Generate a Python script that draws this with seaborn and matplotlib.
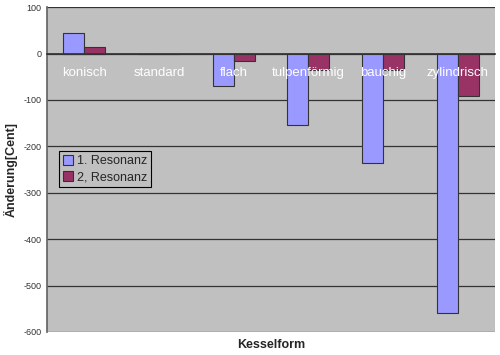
import pandas as pd
import matplotlib
matplotlib.use("Agg")
import matplotlib.pyplot as plt
import seaborn as sns

# data
kesselform = ["konisch", "standard", "flach", "tulpenförmig", "bauchig", "zylindrisch"]
resonanz_1 = [45, 0, -71, -153, -235, -560]
resonanz_2 = [13, 0, -17, -35, -35, -92]
serien = ["1. Resonanz", "2, Resonanz"]

df = pd.DataFrame({
    "Kesselform": kesselform * 2,
    "Änderung": resonanz_1 + resonanz_2,
    "Serie": [serien[0]] * len(kesselform) + [serien[1]] * len(kesselform),
})

sns.set_theme(style="white", rc={"axes.facecolor": "#c0c0c0", "figure.facecolor": "white"})
plt.rcParams["font.family"] = ["Liberation Sans", "DejaVu Sans"]
plt.rcParams["axes.unicode_minus"] = False

fig = plt.figure(figsize=(5, 3.55), dpi=100)
ax = fig.add_axes([0.094, 0.065, 0.896, 0.915])

sns.barplot(data=df, x="Kesselform", y="Änderung", hue="Serie",
            palette=["#9999ff", "#993366"], width=0.56, gap=0,
            edgecolor="#333333", linewidth=0.8, saturation=1, ax=ax, legend=True)

ax.set_ylim(-600, 100)
ax.set_xlim(-0.5, len(kesselform) - 0.5)
ax.set_yticks(range(-600, 101, 100))
ax.tick_params(axis="y", labelsize=6.5, labelcolor="#333333", length=3, width=0.8, color="#555555", pad=1)
ax.yaxis.grid(True, color="#333333", linewidth=0.9)
ax.set_axisbelow(True)

# category axis sits at 0
ax.spines["bottom"].set_position(("data", 0))
ax.spines["bottom"].set_color("#333333")
ax.spines["left"].set_color("#666666")
ax.spines["top"].set_visible(False)
ax.spines["right"].set_visible(False)
ax.set_xticks([i + 0.5 for i in range(len(kesselform))], minor=True)
ax.tick_params(axis="x", which="major", length=0, labelbottom=False)
ax.tick_params(axis="x", which="minor", length=3, width=0.8, color="#333333", direction="out")

for i, name in enumerate(kesselform):
    ax.text(i, -43, name, color="white", fontsize=9.5, ha="center", va="center")

ax.set_xlabel("Kesselform", fontsize=9, fontweight="bold")
ax.xaxis.label.set_va("center")
ax.xaxis.set_label_coords(0.5, -0.04)
ax.set_ylabel("Änderung[Cent]", fontsize=9, fontweight="bold", labelpad=4)

leg = ax.legend(loc="upper left", bbox_to_anchor=(0.013, 0.575), fontsize=9, frameon=True,
                fancybox=False, edgecolor="black", framealpha=1, borderpad=0.3,
                handlelength=0.8, handleheight=0.8, handletextpad=0.3, labelspacing=0.3)
leg.get_frame().set_linewidth(0.8)

fig.savefig("out.png", dpi=100)
